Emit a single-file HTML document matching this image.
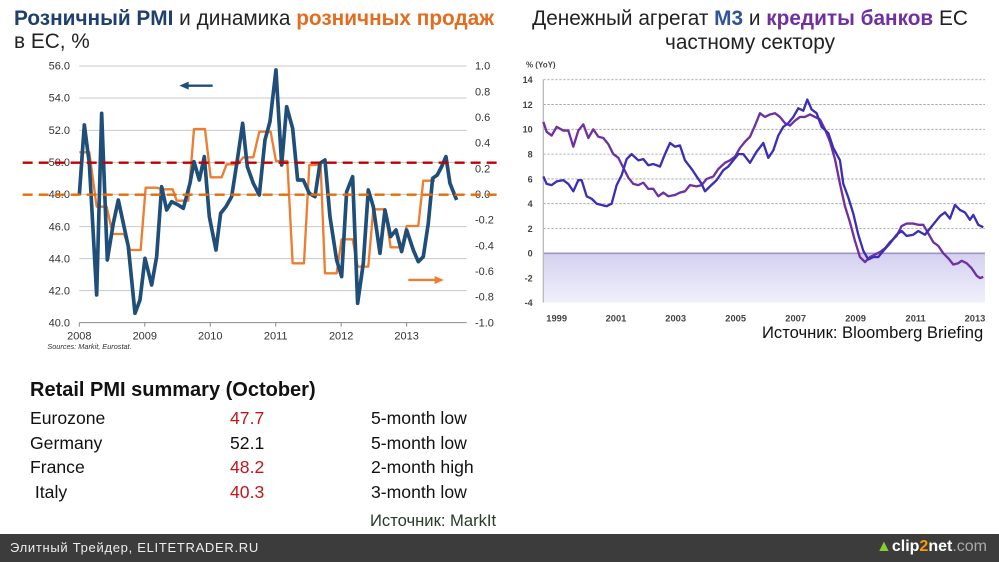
<!DOCTYPE html>
<html><head><meta charset="utf-8"><style>
html,body{margin:0;padding:0;width:999px;height:562px;overflow:hidden;background:#fff;font-family:"Liberation Sans",sans-serif}
.t{position:absolute;white-space:nowrap}
</style></head><body>
<div class="t" style="left:14px;top:7px;font-size:20.8px;line-height:23px;color:#222">
<b style="color:#1f3f6e">Розничный PMI</b> и динамика <b style="color:#e36c1e">розничных продаж</b><br>в ЕС, %</div>
<div class="t" style="left:505px;width:490px;top:7px;font-size:20.8px;line-height:24px;color:#222;text-align:center">
Денежный агрегат <b style="color:#2e5597">M3</b> и <b style="color:#7030a0">кредиты банков</b> ЕС<br>частному сектору</div>

<svg width="999" height="562" style="position:absolute;left:0;top:0">
<g id="L" transform="translate(0,50) scale(0.3333)" font-family="Liberation Sans" font-size="33" fill="#333"></g>
<g id="R" transform="translate(510,50) scale(0.3333)" font-family="Liberation Sans" font-size="30" fill="#333"></g>
</svg>

<div class="t" style="left:30px;top:379px;font-size:20px;font-weight:bold;color:#111">Retail PMI summary (October)</div>
<div class="t" style="left:30px;top:406px;font-size:17.6px;line-height:24.5px;color:#111">Eurozone<br>Germany<br>France<br>&nbsp;Italy</div>
<div class="t" style="left:230px;top:406px;font-size:17.6px;line-height:24.5px;color:#c0171c">47.7<br><span style="color:#111">52.1</span><br>48.2<br>40.3</div>
<div class="t" style="left:371px;top:406px;font-size:17.6px;line-height:24.5px;color:#111">5-month low<br>5-month low<br>2-month high<br>3-month low</div>
<div class="t" style="left:370px;top:511px;font-size:16.6px;color:#2a3a2a">Источник: MarkIt</div>
<div class="t" style="left:762px;top:323px;font-size:16.6px;color:#111">Источник: Bloomberg Briefing</div>
<div style="position:absolute;left:0;top:534px;width:999px;height:28px;background:#3c3c3c"></div>
<div class="t" style="left:10px;top:540px;font-size:13px;color:#eee;letter-spacing:0.7px">Элитный Трейдер, ELITETRADER.RU</div>
<div class="t" style="left:876px;top:538px;font-size:16px;font-weight:bold;color:#fff"><span style="color:#8c3">▲</span>clip<span style="color:#f90">2</span>net<span style="color:#aaa;font-weight:normal">.com</span></div>

<script>
const ns="http://www.w3.org/2000/svg";
function el(p,t,a,txt){const e=document.createElementNS(ns,t);for(const k in a)e.setAttribute(k,a[k]);if(txt!==undefined)e.textContent=txt;p.appendChild(e);return e;}
function pts(a){return a.map(p=>p[0]+","+p[1]).join(" ");}
const L=document.getElementById("L");
const gy=[48,144,241,337,433,530,626,722,818];
const ll=["56.0","54.0","52.0","50.0","48.0","46.0","44.0","42.0","40.0"];
const rl=["1.0","0.8","0.6","0.4","0.2","0.0","-0.2","-0.4","-0.6","-0.8","-1.0"];
gy.forEach((y,i)=>{if(i<8)el(L,"line",{x1:238,x2:1400,y1:y,y2:y,stroke:"#c8c8c8","stroke-width":3});el(L,"text",{x:210,y:y+11,"text-anchor":"end"},ll[i]);});
rl.forEach((t,i)=>{el(L,"text",{x:1425,y:48+i*77+11},t);});
el(L,"line",{x1:238,x2:1400,y1:818,y2:818,stroke:"#888","stroke-width":3});
["2008","2009","2010","2011","2012","2013"].forEach((t,i)=>{const x=238+i*196.4;el(L,"line",{x1:x,x2:x,y1:818,y2:830,stroke:"#888","stroke-width":3});el(L,"text",{x:x,y:868,"text-anchor":"middle"},t);});
el(L,"text",{x:142,y:897,"font-size":22,"font-style":"italic"},"Sources: Markit, Eurostat.");
const blue=[[238,435],[253,225],[268,340],[290,735],[305,190],[322,630],[340,520],[355,450],[370,520],[385,590],[405,790],[420,750],[435,625],[455,705],[470,620],[485,410],[500,480],[515,455],[535,465],[550,475],[570,400],[582,335],[598,390],[613,320],[628,500],[648,600],[662,490],[678,470],[695,440],[712,330],[728,220],[742,350],[760,400],[778,435],[795,270],[810,215],[828,60],[845,345],[860,170],[878,235],[893,390],[910,390],[928,430],[945,440],[960,340],[975,330],[990,500],[1010,630],[1025,680],[1040,425],[1058,380],[1073,760],[1090,640],[1105,420],[1120,470],[1140,610],[1155,480],[1172,560],[1188,540],[1205,605],[1220,540],[1240,600],[1255,635],[1270,620],[1285,520],[1298,385],[1312,375],[1325,350],[1338,320],[1350,400],[1370,450]];
const orange=[[238,307],[268,307],[290,470],[320,470],[338,552],[372,552],[390,600],[422,600],[437,413],[470,413],[485,418],[518,418],[530,452],[565,452],[582,237],[615,237],[632,382],[665,382],[680,343],[712,343],[730,322],[760,322],[778,245],[812,245],[828,333],[862,333],[878,640],[912,640],[928,345],[962,345],[975,670],[1010,670],[1025,568],[1058,568],[1073,650],[1105,650],[1120,478],[1155,478],[1172,592],[1205,592],[1220,528],[1255,528],[1270,392],[1305,392]];
el(L,"polyline",{points:pts(orange),fill:"none",stroke:"#ed7d31","stroke-width":7,"stroke-linejoin":"round"});
el(L,"polyline",{points:pts(blue),fill:"none",stroke:"#1f4e79","stroke-width":11,"stroke-linejoin":"round"});
el(L,"line",{x1:68,x2:1495,y1:338,y2:338,stroke:"#c00000","stroke-width":7,"stroke-dasharray":"30,18"});
el(L,"line",{x1:68,x2:1495,y1:434,y2:434,stroke:"#e36c0a","stroke-width":7,"stroke-dasharray":"30,18"});
el(L,"line",{x1:560,x2:638,y1:107,y2:107,stroke:"#1f4e79","stroke-width":7});
el(L,"polygon",{points:"538,107 566,95 566,119",fill:"#1f4e79"});
el(L,"line",{x1:1225,x2:1310,y1:690,y2:690,stroke:"#ed7d31","stroke-width":7});
el(L,"polygon",{points:"1332,690 1304,678 1304,702",fill:"#ed7d31"});
const R=document.getElementById("R");
const Y=v=>610-v*37.2;
const d=el(R,"defs",{});const lg=el(d,"linearGradient",{id:"g",x1:0,y1:0,x2:0,y2:1});
el(lg,"stop",{offset:0,"stop-color":"#d4d0f0"});el(lg,"stop",{offset:1,"stop-color":"#f0f0fb"});
el(R,"rect",{x:100,y:610,width:1325,height:148,fill:"url(#g)"});
for(let v=14;v>=-4;v-=2){const y=Y(v);if(v>0)el(R,"line",{x1:100,x2:1425,y1:y,y2:y,stroke:"#999","stroke-width":2.5,"stroke-dasharray":"7,5"});el(R,"text",{x:68,y:y+10,"text-anchor":"end","font-weight":"bold","font-size":27,fill:"#444"},v);}
el(R,"line",{x1:100,x2:1425,y1:610,y2:610,stroke:"#9b94c8","stroke-width":5});
el(R,"line",{x1:100,x2:100,y1:88,y2:758,stroke:"#bbb","stroke-width":4});
el(R,"text",{x:48,y:52,"font-size":24,"font-weight":"bold",fill:"#444"},"% (YoY)");
[[140,"1999"],[318,"2001"],[497,"2003"],[677,"2005"],[857,"2007"],[1037,"2009"],[1217,"2011"],[1395,"2013"]].forEach(a=>el(R,"text",{x:a[0],y:815,"text-anchor":"middle","font-weight":"bold","font-size":28,fill:"#444"},a[1]));
const m3=[[100,6.2],[110,5.6],[125,5.5],[140,5.8],[160,5.9],[175,5.6],[190,5.0],[205,5.9],[215,5.9],[230,4.6],[245,4.4],[260,4.0],[275,3.9],[290,3.8],[305,4.0],[320,5.5],[335,6.3],[350,7.6],[365,8.0],[385,7.5],[400,7.6],[415,7.1],[430,7.2],[450,7.0],[465,8.0],[480,8.9],[495,8.6],[510,8.7],[525,7.5],[545,6.8],[560,6.2],[575,5.6],[585,5.0],[600,5.4],[620,5.9],[640,6.7],[655,7.0],[670,7.5],[685,8.0],[700,8.0],[720,7.3],[740,8.2],[760,8.9],[775,7.7],[790,8.3],[805,9.5],[820,10.2],[835,10.5],[850,11.0],[865,11.7],[880,11.5],[892,12.4],[905,11.6],[920,11.3],[935,10.2],[955,9.7],[970,8.5],[990,7.5],[1000,5.6],[1015,4.5],[1030,3.2],[1045,1.5],[1060,0.2],[1075,-0.5],[1090,-0.3],[1105,-0.3],[1120,0.2],[1140,0.8],[1160,1.5],[1175,1.8],[1190,1.4],[1210,1.5],[1225,1.8],[1245,1.5],[1260,2.0],[1275,2.5],[1290,3.0],[1305,3.3],[1320,2.8],[1335,3.9],[1350,3.5],[1365,3.3],[1380,2.7],[1390,3.1],[1405,2.3],[1420,2.1]];
const ln=[[100,10.6],[110,9.8],[125,9.5],[140,10.2],[160,9.9],[175,9.9],[190,8.6],[205,9.9],[220,10.4],[235,9.3],[250,10.0],[265,9.4],[280,9.3],[295,8.8],[310,8.0],[325,7.7],[340,6.9],[355,6.1],[370,5.6],[385,5.5],[400,5.7],[415,5.2],[430,5.2],[445,4.6],[460,4.9],[475,4.6],[495,4.7],[510,4.9],[525,5.0],[540,5.5],[560,5.4],[575,5.5],[590,6.0],[610,6.2],[625,6.8],[645,7.3],[660,7.5],[675,7.8],[690,8.5],[705,9.0],[720,9.4],[735,10.3],[750,11.3],[765,11.0],[780,11.2],[795,11.3],[810,11.0],[825,10.5],[840,10.3],[855,10.7],[870,11.0],[885,11.0],[900,11.2],[915,11.0],[930,10.8],[945,10.0],[960,9.0],[975,7.6],[990,5.6],[1005,3.8],[1020,2.5],[1035,1.0],[1050,-0.3],[1065,-0.7],[1080,-0.3],[1095,-0.1],[1110,0.1],[1125,0.4],[1140,0.9],[1160,1.4],[1175,2.2],[1190,2.4],[1210,2.4],[1225,2.3],[1240,2.3],[1255,1.6],[1270,0.9],[1285,0.6],[1300,0],[1315,-0.4],[1330,-0.9],[1345,-0.8],[1355,-0.6],[1370,-0.8],[1385,-1.2],[1400,-1.8],[1410,-2.0],[1420,-1.9]];
el(R,"polyline",{points:pts(ln.map(p=>[p[0],Y(p[1])])),fill:"none",stroke:"#7030a0","stroke-width":7,"stroke-linejoin":"round"});
el(R,"polyline",{points:pts(m3.map(p=>[p[0],Y(p[1])])),fill:"none",stroke:"#3a2fb5","stroke-width":7,"stroke-linejoin":"round"});
</script>
</body></html>
